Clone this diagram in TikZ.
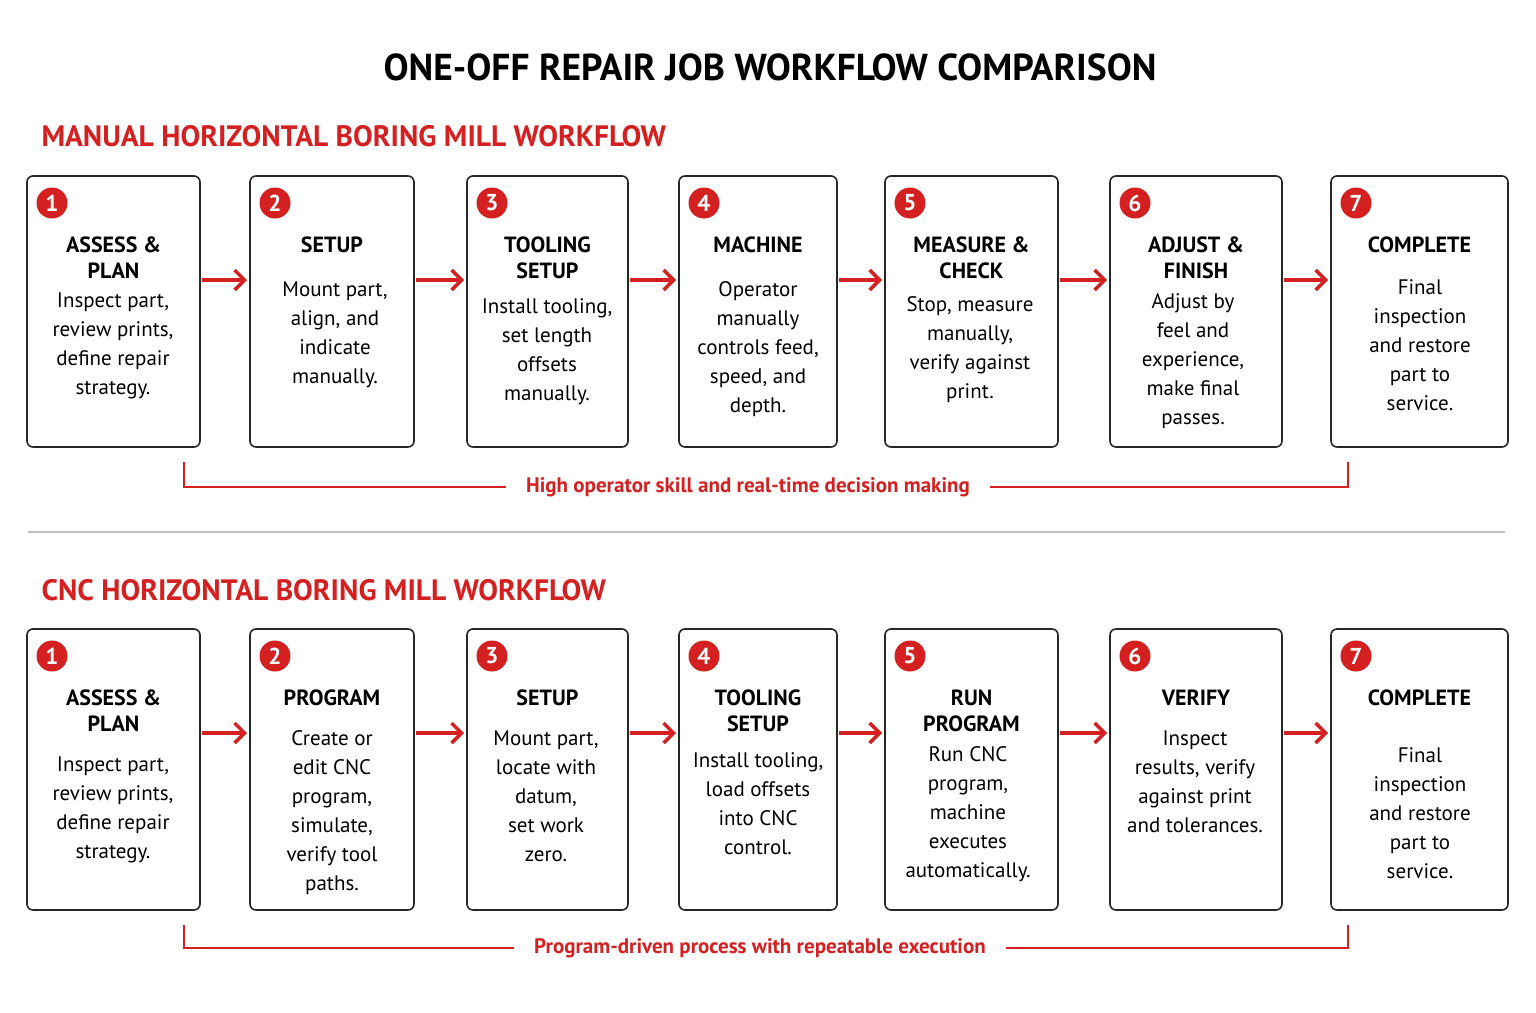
\documentclass[tikz,border=0pt]{standalone}
\usepackage{fontspec}
\setmainfont{PT Sans}
\usetikzlibrary{arrows.meta}
\definecolor{rd}{HTML}{D42020}
\begin{document}
\begin{tikzpicture}[x=1pt,y=-1pt,
 box/.style={draw=black!85,line width=1.6pt,rounded corners=6pt},
 num/.style={circle,fill=rd,text=white,inner sep=0pt,minimum size=31pt,font=\fontsize{23}{23}\selectfont\bfseries},
 ttl/.style={align=center,font=\fontsize{22}{26}\selectfont\bfseries,anchor=north},
 body/.style={align=center,font=\fontsize{21}{29}\selectfont,anchor=north},
 arr/.style={draw=rd,line width=3.5pt,-{Straight Barb[length=10pt,width=20pt,line width=3.5pt]}},
 brk/.style={draw=rd,line width=1.3pt},
 btxt/.style={text=rd,font=\fontsize{21}{21}\selectfont\bfseries,fill=white,inner xsep=20pt}]
\useasboundingbox (0,0) rectangle (1536,1012);
\fill[white] (0,0) rectangle (1536,1012);
\node[font=\fontsize{37.5}{40}\selectfont\bfseries] (T) at (770,67) {ONE-OFF REPAIR JOB WORKFLOW COMPARISON};
\node[anchor=west,text=rd,font=\fontsize{29.5}{31}\selectfont\bfseries] (H1) at (38,136) {MANUAL HORIZONTAL BORING MILL WORKFLOW};
\node[anchor=west,text=rd,font=\fontsize{29.5}{31}\selectfont\bfseries] (H2) at (38,590) {CNC HORIZONTAL BORING MILL WORKFLOW};
\draw[black!25,line width=1.2pt] (28,532) coordinate (s1) -- (1505,532) coordinate (s2);
\foreach \i/\a/\b in {1/27/200,2/250/414,3/467/628,4/679/837,5/885/1058,6/1110/1282,7/1331/1508}{
 \draw[box] (\a,176) rectangle (\b,447);
 \node[num] (na\i) at (\a+25,203) {\i};
 \coordinate (ta\i) at ({(\a+\b)/2},233);
 \coordinate (la\i) at (\a,280); \coordinate (ra\i) at (\b,280);
 \draw[box] (\a,629) rectangle (\b,910);
 \node[num] (nb\i) at (\a+25,656) {\i};
 \coordinate (tb\i) at ({(\a+\b)/2},686);
 \coordinate (lb\i) at (\a,733); \coordinate (rb\i) at (\b,733);
}
\foreach \i [count=\j from 2] in {1,...,6}{
 \draw[arr] ([xshift=2pt]ra\i) -- ([xshift=-3pt]la\j);
 \draw[arr] ([xshift=2pt]rb\i) -- ([xshift=-3pt]lb\j);
}
\node[ttl] at (ta1) {ASSESS \&\\PLAN};
\node[body] at (113,289) {Inspect part,\\review prints,\\define repair\\strategy.};
\node[ttl] at (ta2) {SETUP};
\node[body] at (335,278) {Mount part,\\align, and\\indicate\\manually.};
\node[ttl] at (ta3) {TOOLING\\SETUP};
\node[body] at (547,295) {Install tooling,\\set length\\offsets\\manually.};
\node[ttl] at (ta4) {MACHINE};
\node[body] at (758,278) {Operator\\manually\\controls feed,\\speed, and\\depth.};
\node[ttl] at (ta5) {MEASURE \&\\CHECK};
\node[body] at (970,293) {Stop, measure\\manually,\\verify against\\print.};
\node[ttl] at (ta6) {ADJUST \&\\FINISH};
\node[body] at (1193,290) {Adjust by\\feel and\\experience,\\make final\\passes.};
\node[ttl] at (ta7) {COMPLETE};
\node[body] at (1420,276) {Final\\inspection\\and restore\\part to\\service.};
\node[ttl] at (tb1) {ASSESS \&\\PLAN};
\node[body] at (113,753) {Inspect part,\\review prints,\\define repair\\strategy.};
\node[ttl] at (tb2) {PROGRAM};
\node[body] at (332,727) {Create or\\edit CNC\\program,\\simulate,\\verify tool\\paths.};
\node[ttl] at (tb3) {SETUP};
\node[body] at (546,727) {Mount part,\\locate with\\datum,\\set work\\zero.};
\node[ttl] at (tb4) {TOOLING\\SETUP};
\node[body] at (758,749) {Install tooling,\\load offsets\\into CNC\\control.};
\node[ttl] at (tb5) {RUN\\PROGRAM};
\node[body] at (968,743) {Run CNC\\program,\\machine\\executes\\automatically.};
\node[ttl] at (tb6) {VERIFY};
\node[body] at (1195,727) {Inspect\\results, verify\\against print\\and tolerances.};
\node[ttl] at (tb7) {COMPLETE};
\node[body] at (1420,744) {Final\\inspection\\and restore\\part to\\service.};
\coordinate (a1) at (184,462); \coordinate (a2) at (184,487);
\coordinate (a3) at (1348,487); \coordinate (a4) at (1348,462);
\draw[brk] (a1) -- (a2) -- (a3) -- (a4);
\node[btxt] (B1) at (748,487) {High operator skill and real-time decision making};
\coordinate (b1) at (184,925); \coordinate (b2) at (184,948);
\coordinate (b3) at (1348,948); \coordinate (b4) at (1348,925);
\draw[brk] (b1) -- (b2) -- (b3) -- (b4);
\node[btxt] (B2) at (760,948) {Program-driven process with repeatable execution};
\end{tikzpicture}
\end{document}
